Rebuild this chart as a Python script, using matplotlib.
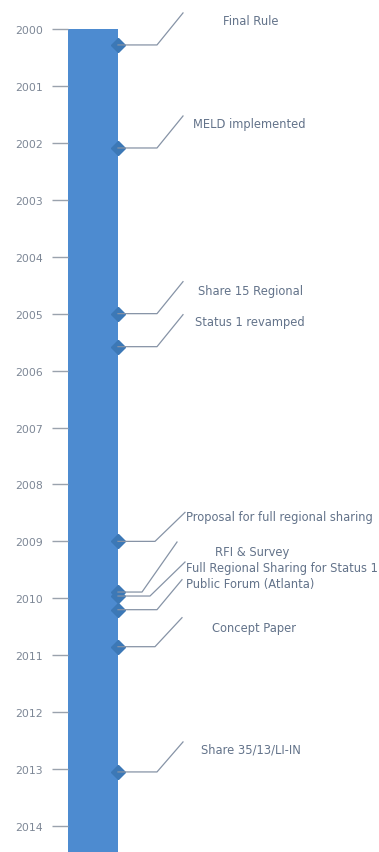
import matplotlib
matplotlib.use("Agg")
import matplotlib.pyplot as plt
import numpy as np
from matplotlib.lines import Line2D

# ---- data -------------------------------------------------------------
years = list(range(2000, 2015))
span_start = 2000
span_end = 2015

event_labels = [
    "Final Rule",
    "MELD implemented",
    "Share 15 Regional",
    "Status 1 revamped",
    "Proposal for full regional sharing",
    "RFI & Survey",
    "Full Regional Sharing for Status 1",
    "Public Forum (Atlanta)",
    "Concept Paper",
    "Share 35/13/LI-IN",
]
event_years = [2000.28, 2002.09, 2005.0, 2005.58, 2009.0,
               2009.89, 2009.96, 2010.2, 2010.85, 2013.05]

# ---- layout (pixels) --------------------------------------------------
W, H, DPI = 379, 853, 100
AX_LEFT = 68           # left edge of the timeline bar
BAR_W = 50
PX_PER_YEAR = 56.93
TOP_PAD = 30           # pixels above the first year

# leader geometry per event: elbow length, tip dx, tip dy (up), text x, text dy (up), align
leaders = [
    (39, 65, 32, 251, 24, "center"),
    (39, 65, 32, 249, 24, "center"),
    (39, 65, 32, 251, 23, "center"),
    (39, 65, 32, 250, 25, "center"),
    (37, 67, 29, 186, 25, "left"),
    (24, 59, 50, 252, 41, "center"),
    (32, 67, 34, 186, 29, "left"),
    (39, 64, 30, 186, 26, "left"),
    (37, 64, 29, 254, 19, "center"),
    (39, 65, 30, 251, 23, "center"),
]

bar_color = "#4d8bd0"
marker_color = "#3c78b6"
leader_color = "#8693a6"
label_color = "#63738a"
tick_color = "#7d8796"

fig = plt.figure(figsize=(W / DPI, H / DPI), dpi=DPI)
fig.patch.set_facecolor("white")
ax = fig.add_axes([AX_LEFT / W, 0, (W - AX_LEFT) / W, 1])
ax.set_xlim(0, W - AX_LEFT)
y_top = years[0] - TOP_PAD / PX_PER_YEAR
y_bot = y_top + H / PX_PER_YEAR
ax.set_ylim(y_bot, y_top)

ax.bar(BAR_W / 2, span_end - span_start, bottom=span_start, width=BAR_W,
       color=bar_color, zorder=1)
ax.plot(np.full(len(event_years), BAR_W), event_years, "D", ms=7.5,
        color=marker_color, mec=marker_color, zorder=4, clip_on=False)

for s in ax.spines.values():
    s.set_visible(False)
ax.set_xticks([])
ax.set_yticks(years)
ax.set_yticklabels([str(y) for y in years])
ax.tick_params(axis="y", direction="out", length=11.5, width=1.0,
               color="#9aa2ad", pad=6.5, labelsize=7.8, labelcolor=tick_color)
ax.set_facecolor("none")

# leaders and labels drawn in figure pixels
for label, yr, (elbow, tdx, tdy, tx, ty, ha) in zip(event_labels, event_years, leaders):
    mx, my = ax.transData.transform((BAR_W, yr))
    xs = [mx, mx + elbow, mx + tdx]
    ys = [my, my, my + tdy]
    fig.add_artist(Line2D(np.array(xs) / W, np.array(ys) / H, color=leader_color,
                          lw=0.9, zorder=3, transform=fig.transFigure))
    fig.text(tx / W, (my + ty) / H, label, ha=ha, va="center", fontsize=8.3,
             color=label_color, family="DejaVu Sans")

fig.savefig("out.png", dpi=DPI, facecolor="white")
